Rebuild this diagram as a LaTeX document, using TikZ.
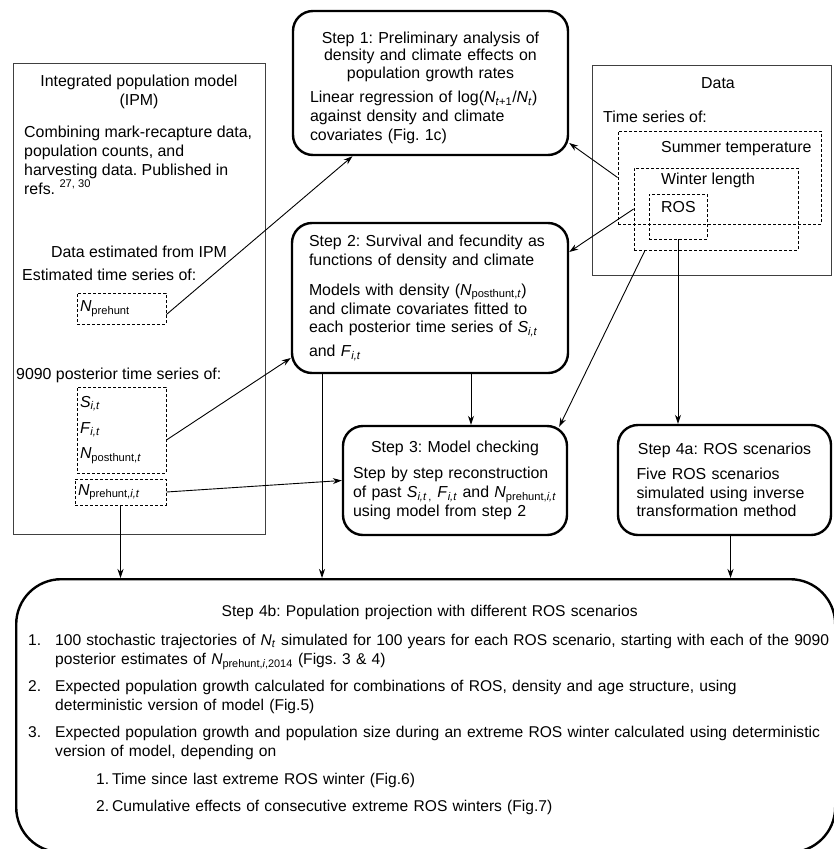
\documentclass[tikz,border=0pt]{standalone}
\usepackage{fontspec}
\setmainfont{Liberation Sans}
\usetikzlibrary{arrows.meta, positioning}
\setlength{\parindent}{0pt}
\frenchspacing
\newcommand{\vsub}[2]{\textit{#1}\textsubscript{#2}}

\begin{document}
\begin{tikzpicture}[
    x=1pt, y=-1pt,
    every node/.style={font=\fontsize{15.9}{18.8}\selectfont, inner sep=0pt},
    panel/.style={draw=black!75, line width=0.9pt},
    dbox/.style={draw, dash pattern=on 3pt off 2pt, line width=0.9pt, inner xsep=3pt},
    stepbox/.style={draw, line width=2.4pt, rounded corners=20pt},
    arr/.style={-{Stealth[length=9pt, width=6pt]}, line width=0.9pt}
]
   \useasboundingbox (0,0) rectangle (833,849);

   % IPM panel
   \node[panel, minimum width=252pt, minimum height=471pt] (ipm) at (139,298.5) {};
   \node[align=center] (ipmtitle) at (139,92) {Integrated population model\\(IPM)};
   \node[align=left, anchor=north west] (ipmtext) at (24,126)
        {Combining mark-recapture data,\\population counts, and\\harvesting data. Published in\\refs. \textsuperscript{27, 30}};
   \node (ipmdata) at (139,252) {Data estimated from IPM};
   \node[anchor=west] (esttxt) at (22,275) {Estimated time series of:};
   \node[dbox, text width=83pt, minimum height=31pt] (prehunt) at (121.5,308.5) {\vsub{N}{prehunt}};
   \node[anchor=west] (posttxt) at (16,375) {9090 posterior time series of:};
   \node[dbox, text width=83pt, minimum height=86pt] (sfn) at (121.5,430)
        {\raggedright \vsub{S}{\textit{i,t}}\\[7pt] \vsub{F}{\textit{i,t}}\\[7pt] \vsub{N}{posthunt,\textit{t}}};
   \node[dbox, text width=85pt, minimum height=26pt] (prehuntit) at (120.5,492) {\vsub{N}{prehunt,\textit{i,t}}};

   % Data panel
   \node[panel, minimum width=239pt, minimum height=210pt] (data) at (711.5,170) {};
   \node (datatitle) at (718,83) {Data};
   \node[anchor=west] (datasub) at (603,117) {Time series of:};
   \node[dbox, minimum width=203pt, minimum height=93pt] (summer) at (719.5,177.5) {};
   \node[dbox, minimum width=164pt, minimum height=82pt] (winter) at (716,209) {};
   \node[dbox, minimum width=58pt, minimum height=45pt] (ros) at (678,216.5) {};
   \node[anchor=west] (summertxt) at (661,149) {Summer temperature};
   \node[anchor=west] (wintertxt) at (661,180) {Winter length};
   \node[anchor=west] (rostxt) at (661,207) {ROS};

   % Steps
   \node[stepbox, minimum width=275pt, minimum height=144pt, text width=241pt] (s1) at (430.5,83)
        {{\fontsize{15.9}{17.5}\selectfont\centering \rule{0pt}{21pt}Step 1: Preliminary analysis of\\ density and climate effects on\\ population growth rates\par}\vspace{6pt}
         \raggedright Linear regression of log(\vsub{N}{\textit{t}+1}/\vsub{N}{\textit{t}})\\ against density and climate\\ covariates (Fig. 1c)};
   \node[stepbox, minimum width=276pt, minimum height=150pt, text width=242pt] (s2) at (430,298)
        {\raggedright \mbox{Step 2: Survival and fecundity as}\\ functions of density and climate\par\vspace{11pt}
         Models with density (\vsub{N}{posthunt,\textit{t}})\\ and climate covariates fitted to\\ each posterior time series of \vsub{S}{\textit{i,t}}\\[5pt] and \vsub{F}{\textit{i,t}}};
   \node[stepbox, minimum width=224pt, minimum height=109pt, text width=204pt] (s3) at (455,480.5)
        {\centering Step 3: Model checking\par\vspace{7pt}
         \raggedright Step by step reconstruction\\ \mbox{of past \vsub{S}{\textit{i,t}\,,} \vsub{F}{\textit{i,t}} and \vsub{N}{prehunt,\textit{i,t}}}\\ using model from step 2};
   \node[stepbox, minimum width=213pt, minimum height=110pt, text width=176pt] (s4a) at (724.5,480)
        {\centering Step 4a: ROS scenarios\par\vspace{6pt}
         \raggedright Five ROS scenarios\\ simulated using inverse\\ transformation method};
   \node[stepbox, rounded corners=45pt, minimum width=819pt, minimum height=273pt, anchor=north west] (s4b) at (15,578) {};
   \node[anchor=north west, text width=803pt, font=\fontsize{15.6}{19}\selectfont] (s4btext) at (28,605)
        {\centering Step 4b: Population projection with different ROS scenarios\par\vspace{10pt}
         \raggedright
         \mbox{\makebox[27pt][l]{1.}100 stochastic trajectories of \vsub{N}{\textit{t}} simulated for 100 years for each ROS scenario, starting with each of the 9090}\\
         \hspace*{27pt}posterior estimates of \vsub{N}{prehunt,\textit{i},2014} (Figs. 3 \& 4)\par\vspace{8pt}
         \mbox{\makebox[27pt][l]{2.}Expected population growth calculated for combinations of ROS, density and age structure, using}\\
         \hspace*{27pt}deterministic version of model (Fig.5)\par\vspace{8pt}
         \mbox{\makebox[27pt][l]{3.}Expected population growth and population size during an extreme ROS winter calculated using deterministic}\\
         \hspace*{27pt}version of model, depending on\par\vspace{9pt}
         \hspace*{68pt}\makebox[16pt][l]{1.}Time since last extreme ROS winter (Fig.6)\par\vspace{8pt}
         \hspace*{68pt}\makebox[16pt][l]{2.}Cumulative effects of consecutive extreme ROS winters (Fig.7)};

   % Connectors
   \draw[arr] ([yshift=-6pt]prehunt.east) -- ([xshift=-78pt]s1.south);
   \draw[arr] ([yshift=-10pt]sfn.east) -- ([yshift=-60pt]s2.west);
   \draw[arr] (prehuntit.east) -- (s3.west);
   \draw[arr] (prehuntit.south) -- (prehuntit.south |- s4b.north);
   \draw[arr] ([xshift=16pt]s3.north |- s2.south) -- ([xshift=16pt]s3.north);
   \draw[arr] ([xshift=-108pt]s2.south) -- ([xshift=-108pt]s2.south |- s4b.north);
   \draw[arr] (summer.west) -- ([yshift=-60pt]s1.east);
   \draw[arr] (winter.west) -- ([yshift=46pt]s2.east);
   \draw[arr] ([xshift=-71pt]winter.south) -- ([shift={(-9pt,-2pt)}]s3.north east);
   \draw[arr] (ros.south) -- (ros.south |- s4a.north);
   \draw[arr] ([xshift=6pt]s4a.south) -- ([xshift=6pt]s4a.south |- s4b.north);

\end{tikzpicture}
\end{document}
